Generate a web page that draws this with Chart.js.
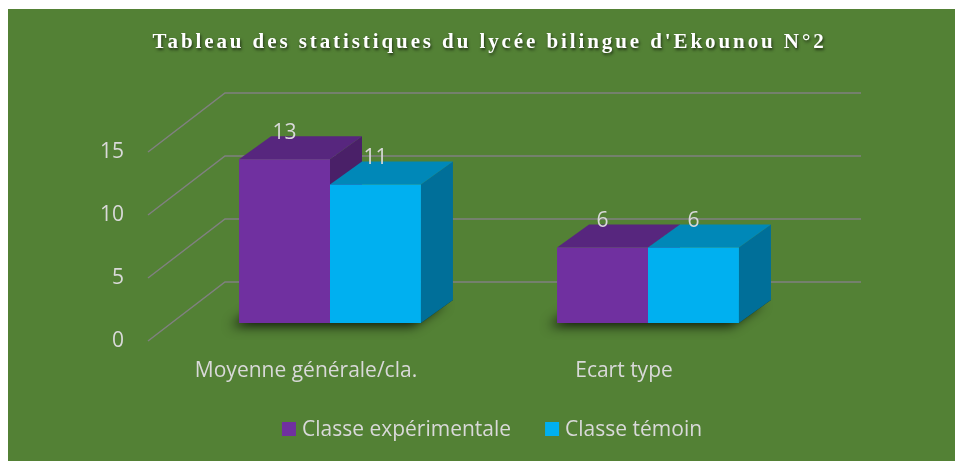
<!DOCTYPE html>
<html lang="fr">
<head>
<meta charset="utf-8">
<title>Tableau des statistiques</title>
<script src="https://cdn.jsdelivr.net/npm/chart.js@4.4.1/dist/chart.umd.min.js"></script>
<style>
  html, body { margin: 0; padding: 0; background: #fff; }
  canvas { display: block; }
</style>
</head>
<body>
<canvas id="chart" width="955" height="461"></canvas>
<script>
// Données du graphique
const TITLE = "Tableau des statistiques du lycée bilingue d'Ekounou N°2";
const CATEGORIES = ['Moyenne générale/cla.', 'Ecart type'];
const SERIES_NAMES = ['Classe expérimentale', 'Classe témoin'];
const EXPERIMENTALE = [13, 6];
const TEMOIN = [11, 6];
const Y_TICKS = [0, 5, 10, 15];

// Style
const BG = '#538135';
const GRID = '#808080';
const TEXT = '#d9d9d9';
const FONT = '"Open Sans", sans-serif';
const FONT_SIZE = 21;
const FACES = [
  { front: '#7030a0', top: '#57267e', side: '#4a2068' },
  { front: '#00b0f0', top: '#0088b8', side: '#006f99' },
];
// décalages 3D (px) par rapport au plan avant des barres
const BACK = { dx: 54, dy: -41 };
const FRONT = { dx: -23, dy: 18 };
const DEPTH = { dx: 32, dy: -23 };

function poly(ctx, pts, color) {
  ctx.beginPath();
  ctx.moveTo(pts[0][0], pts[0][1]);
  for (let i = 1; i < pts.length; i++) ctx.lineTo(pts[i][0], pts[i][1]);
  ctx.closePath();
  ctx.fillStyle = color;
  ctx.fill();
}

function barBox(bar) {
  const p = bar.getProps(['x', 'y', 'base', 'width'], true);
  return { l: p.x - p.width / 2, r: p.x + p.width / 2, t: p.y, b: p.base, x: p.x };
}

const chart3d = {
  id: 'chart3d',
  beforeDraw(chart) {
    const ctx = chart.ctx;
    ctx.save();
    ctx.fillStyle = BG;
    ctx.fillRect(8, 9, chart.width - 8, chart.height - 9);
    ctx.restore();
  },
  beforeDatasetsDraw(chart) {
    const ctx = chart.ctx;
    const area = chart.chartArea;
    const y = chart.scales.y;
    ctx.save();

    // parois : murs arrière et latéral
    ctx.strokeStyle = GRID;
    ctx.lineWidth = 1.5;
    y.ticks.forEach((t) => {
      const py = y.getPixelForValue(t.value);
      ctx.beginPath();
      ctx.moveTo(area.left + FRONT.dx, py + FRONT.dy);
      ctx.lineTo(area.left + BACK.dx, py + BACK.dy);
      ctx.lineTo(area.right + BACK.dx, py + BACK.dy);
      ctx.stroke();
    });

    // ombres au sol
    const m0 = chart.getDatasetMeta(0);
    const m1 = chart.getDatasetMeta(1);
    m0.data.forEach((bar, i) => {
      const a = barBox(bar);
      const c = barBox(m1.data[i]);
      ctx.save();
      ctx.shadowColor = 'rgba(0, 0, 0, 0.85)';
      ctx.shadowBlur = 12;
      ctx.shadowOffsetX = -8;
      ctx.shadowOffsetY = 3;
      poly(ctx, [
        [a.l, a.b], [c.r, a.b],
        [c.r + DEPTH.dx, a.b + DEPTH.dy], [a.l + DEPTH.dx, a.b + DEPTH.dy],
      ], '#1e3012');
      ctx.restore();
    });

    // faces supérieures et latérales
    chart.data.datasets.forEach((ds, di) => {
      const faces = FACES[di];
      chart.getDatasetMeta(di).data.forEach((bar) => {
        const k = barBox(bar);
        poly(ctx, [
          [k.r, k.t], [k.r + DEPTH.dx, k.t + DEPTH.dy],
          [k.r + DEPTH.dx, k.b + DEPTH.dy], [k.r, k.b],
        ], faces.side);
        poly(ctx, [
          [k.l, k.t], [k.r, k.t],
          [k.r + DEPTH.dx, k.t + DEPTH.dy], [k.l + DEPTH.dx, k.t + DEPTH.dy],
        ], faces.top);
      });
    });
    ctx.restore();
  },
  afterDatasetsDraw(chart) {
    const ctx = chart.ctx;
    ctx.save();
    ctx.font = FONT_SIZE + 'px ' + FONT;
    ctx.fillStyle = TEXT;
    ctx.textAlign = 'center';
    ctx.textBaseline = 'middle';
    chart.data.datasets.forEach((ds, di) => {
      chart.getDatasetMeta(di).data.forEach((bar, i) => {
        const k = barBox(bar);
        ctx.fillText(String(ds.data[i]), k.x, k.t + DEPTH.dy - 3);
      });
    });
    ctx.restore();
  },
  afterDraw(chart) {
    const ctx = chart.ctx;
    ctx.save();

    // titre
    ctx.font = 'bold 21px "Liberation Serif", serif';
    ctx.letterSpacing = '0px';
    const w0 = ctx.measureText(TITLE).width;
    ctx.letterSpacing = ((671 - w0) / (TITLE.length - 1)).toFixed(2) + 'px';
    ctx.fillStyle = '#ffffff';
    ctx.textAlign = 'left';
    ctx.textBaseline = 'alphabetic';
    ctx.shadowColor = 'rgba(0, 0, 0, 0.6)';
    ctx.shadowBlur = 3;
    ctx.shadowOffsetX = 1;
    ctx.shadowOffsetY = 2;
    ctx.fillText(TITLE, 152.5, 48);
    ctx.restore();

    // légende
    ctx.save();
    ctx.font = FONT_SIZE + 'px ' + FONT;
    ctx.textBaseline = 'middle';
    ctx.textAlign = 'left';
    const box = 14, gapBox = 6, gapItem = 34, ly = 429;
    const widths = chart.data.datasets.map((ds) => ctx.measureText(ds.label).width);
    const total = widths.reduce((s, w) => s + box + gapBox + w, 0) + gapItem * (widths.length - 1);
    let lx = 492 - total / 2;
    chart.data.datasets.forEach((ds, di) => {
      ctx.fillStyle = ds.backgroundColor;
      ctx.fillRect(lx, ly - box / 2, box, box);
      ctx.fillStyle = TEXT;
      ctx.fillText(ds.label, lx + box + gapBox, ly + 1);
      lx += box + gapBox + widths[di] + gapItem;
    });
    ctx.restore();
  },
};

new Chart(document.getElementById('chart'), {
  type: 'bar',
  data: {
    labels: CATEGORIES,
    datasets: [
      { label: SERIES_NAMES[0], data: EXPERIMENTALE, backgroundColor: FACES[0].front },
      { label: SERIES_NAMES[1], data: TEMOIN, backgroundColor: FACES[1].front },
    ],
  },
  options: {
    responsive: false,
    animation: false,
    events: [],
    layout: { padding: { left: 0, right: 148, top: 134, bottom: 0 } },
    datasets: {
      bar: { categoryPercentage: 0.572, barPercentage: 1, borderWidth: 0 },
    },
    plugins: {
      legend: { display: false },
      title: { display: false },
      tooltip: { enabled: false },
    },
    scales: {
      x: {
        grid: { display: false, drawTicks: false },
        border: { display: false },
        ticks: {
          color: TEXT,
          font: { family: FONT, size: FONT_SIZE },
          padding: 35,
          labelOffset: -24,
          maxRotation: 0,
        },
        afterFit(scale) { scale.height = 138; },
      },
      y: {
        min: 0,
        max: 15,
        grid: { display: false, drawTicks: false },
        border: { display: false },
        afterBuildTicks(scale) { scale.ticks = Y_TICKS.map((v) => ({ value: v })); },
        ticks: {
          color: TEXT,
          font: { family: FONT, size: FONT_SIZE },
          padding: 47,
          labelOffset: 18,
        },
        afterFit(scale) { scale.width = 171; },
      },
    },
  },
  plugins: [chart3d],
});
</script>
</body>
</html>
